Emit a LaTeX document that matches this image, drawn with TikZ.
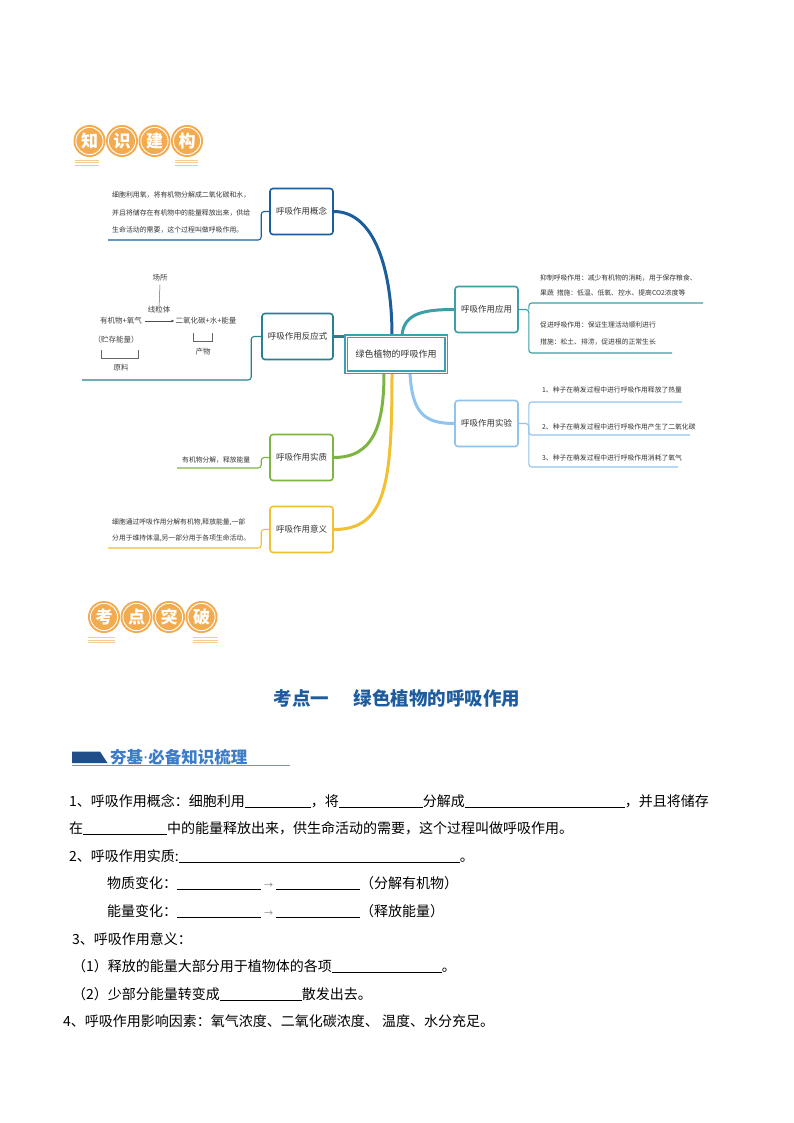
\documentclass[tikz,border=0pt]{standalone}
\usepackage{fontspec}
\setmainfont{Noto Sans CJK SC}
\newfontfamily\dvs{DejaVu Sans}
\usetikzlibrary{calc,backgrounds,arrows.meta}
\definecolor{cBlue}{HTML}{1B5E9B}
\definecolor{cTeal}{HTML}{2A808F}
\definecolor{cTealB}{HTML}{3B9FA6}
\definecolor{cLBlue}{HTML}{90C4EE}
\definecolor{cGreen}{HTML}{7DB544}
\definecolor{cGold}{HTML}{F2C033}
\definecolor{cCenter}{HTML}{3AA0B6}
\definecolor{hOrange}{HTML}{F2AB4F}
\definecolor{hLine}{HTML}{F3CB95}
\definecolor{titleBlue}{HTML}{1E5C9E}
\definecolor{secText}{HTML}{3D7CC9}
\definecolor{secShape}{HTML}{1F4E88}
\definecolor{secLine}{HTML}{7F93A8}
\definecolor{txtGray}{HTML}{333333}
\newcommand{\blank}[1]{\rule[-2pt]{#1}{0.6pt}}
\newcommand{\arr}{\hspace{3pt}{\color{gray}\fontsize{9}{9}\selectfont →}\hspace{3pt}}
\begin{document}
\begin{tikzpicture}[x=1pt,y=-1pt,
  every node/.style={inner sep=0pt},
  mnode/.style={draw, line width=1.6pt, rounded corners=3pt, fill=white,
    minimum width=63pt, minimum height=46pt, text=txtGray,
    font=\fontsize{8.5}{10}\selectfont},
  leaf/.style={font=\fontsize{6.8}{8}\selectfont, text=txtGray, align=left, anchor=west},
  eqt/.style={font=\fontsize{7.5}{8}\selectfont, text=black!75},
  body/.style={font=\fontsize{14}{16}\selectfont, anchor=base west},
  hcirc/.style={text=white, font=\bfseries\fontsize{17}{17}\selectfont},
  branch/.style={line width=3pt, line cap=round},
  twig/.style={line width=1.1pt, rounded corners=3pt},
]
\useasboundingbox (0,0) rectangle (794,1123);

% ---------- header 1 ----------
\foreach \x/\t [count=\i] in {89.5/知,122/识,154.5/建,187/构} {
  \fill[hOrange] (\x,141) circle (16);
  \draw[white, line width=0.9pt] (\x,141) circle (13.6);
  \node[hcirc] (ha\i) at (\x,141) {\t};
}
\foreach \yy in {160,162.5,165} {
  \draw[hLine, line width=0.6pt] (75,\yy) -- (99,\yy);
  \draw[hLine, line width=0.6pt] (175,\yy) -- (198,\yy);
}

% ---------- mind map nodes ----------
\node[mnode, draw=cBlue] (gn) at (301.5,211.5) {呼吸作用概念};
\node[mnode, draw=cTeal, minimum width=71pt] (fy) at (297.5,336.5) {呼吸作用反应式};
\node[mnode, draw=cGreen] (sz) at (301.5,457.5) {呼吸作用实质};
\node[mnode, draw=cGold] (yi) at (301.5,529.5) {呼吸作用意义};
\node[mnode, draw=cTealB] (yong) at (486.5,309.5) {呼吸作用应用};
\node[mnode, draw=cLBlue] (sy) at (486.5,423.5) {呼吸作用实验};
\node[draw=cCenter, line width=1.8pt, double=white, double distance=0.8pt, fill=white,
  minimum width=100pt, minimum height=36pt, text=txtGray,
  font=\fontsize{9}{10}\selectfont] (c) at (396,354) {绿色植物的呼吸作用};

% leaf coordinates
\coordinate (gnL) at (108,240);
\coordinate (fyL) at (82,380);
\coordinate (szL) at (177,468);
\coordinate (yiL) at (108,548);
\coordinate (yA) at (703,303);
\coordinate (yB) at (672,353);
\coordinate (s1) at (682,402);
\coordinate (s2) at (690,435);
\coordinate (s3) at (678,467);

\begin{scope}[on background layer]
  \fill[white] (0,0) rectangle (794,1123);
  % branches
  \draw[branch, cBlue] (gn.east) .. controls +(42,0) and +(0,-62) .. ([xshift=-4pt]c.north);
  \draw[branch, cTeal] (fy.east) -- (fy.east -| c.west);
  \draw[branch, cTealB] ([xshift=6pt]c.north) .. controls +(2,-22) and +(-30,0) .. (yong.west);
  \draw[branch, cLBlue] ([xshift=14pt]c.south) .. controls +(2,40) and +(-30,0) .. (sy.west);
  \draw[branch, cGreen] ([xshift=-12pt]c.south) .. controls +(0,52) and +(40,0) .. (sz.east);
  \draw[branch, cGold] ([xshift=-4pt]c.south) .. controls +(0,112) and +(52,0) .. (yi.east);
  % twigs
  \draw[twig, cBlue] (gn.west) -- ++(-8,0) |- (gnL);
  \draw[twig, cTeal] (fy.west) -- ++(-10,0) |- (fyL);
  \draw[twig, cGreen] (sz.west) -- ++(-8,0) |- (szL);
  \draw[twig, cGold] (yi.west) -- ++(-8,0) |- (yiL);
  \draw[twig, cTealB] (yong.east) -- ++(10,0) |- (yB);
  \draw[twig, cTealB] (yong.east) ++(10,0) |- (yA);
  \draw[twig, cLBlue] (sy.east) -- ++(10,0) |- (s3);
  \draw[twig, cLBlue] (sy.east) ++(10,0) |- (s1);
  \draw[twig, cLBlue] (sy.east) ++(10,0) |- (s2);
\end{scope}

% leaf texts
\node[leaf, font=\fontsize{6.9}{17.5}\selectfont] (gnt) at (112,212.5)
  {细胞利用氧，将有机物分解成二氧化碳和水，\\并且将储存在有机物中的能量释放出来，供给\\生命活动的需要，这个过程叫做呼吸作用。};
\node[leaf] (szt) at (182,460) {有机物分解，释放能量};
\node[leaf, font=\fontsize{6.8}{16}\selectfont] (yit) at (112,530)
  {细胞通过呼吸作用分解有机物,释放能量,一部\\分用于维持体温,另一部分用于各项生命活动。};
\node[leaf, font=\fontsize{6.8}{15}\selectfont] (yt1) at (540,285.5)
  {抑制呼吸作用：减少有机物的消耗，用于保存粮食、\\果蔬\ \ 措施：低温、低氧、控水、提高CO2浓度等};
\node[leaf, font=\fontsize{6.8}{16.5}\selectfont] (yt2) at (540,333.5)
  {促进呼吸作用：保证生理活动顺利进行\\措施：松土、排涝，促进根的正常生长};
\node[leaf] (st1) at (542,390) {1、种子在萌发过程中进行呼吸作用释放了热量};
\node[leaf] (st2) at (542,427) {2、种子在萌发过程中进行呼吸作用产生了二氧化碳};
\node[leaf] (st3) at (542,458) {3、种子在萌发过程中进行呼吸作用消耗了氧气};

% reaction equation
\node[eqt] (cs) at (160,278) {场所};
\node[eqt] (xlt) at (159,310) {线粒体};
\draw[black!60, line width=0.5pt] (cs.south) ++(0,3) -- ([yshift=-2pt]xlt.north);
\node[eqt] (yj) at (121,321) {有机物+氧气};
\node[eqt] (cw) at (206,321) {二氧化碳+水+能量};
\draw[black!70, line width=0.5pt, -{Stealth[length=3.5pt,width=2.5pt]}] ([xshift=3pt]yj.east) -- ([xshift=-1pt]cw.west);
\node[eqt] (zc) at (116,340) {（贮存能量）};
\draw[black!60, line width=0.5pt] (101,350) |- (138,358) -- (138,350);
\node[eqt] (yl) at (121,368) {原料};
\draw[black!60, line width=0.5pt] (193,333) |- (212,341) -- (212,333);
\node[eqt] (cwu) at (203,352) {产物};

% ---------- header 2 ----------
\foreach \x/\t [count=\i] in {104/考,136.5/点,169/突,201.5/破} {
  \fill[hOrange] (\x,617) circle (16);
  \draw[white, line width=0.9pt] (\x,617) circle (13.6);
  \node[hcirc] (hb\i) at (\x,617) {\t};
}
\foreach \yy in {637.5,640,642.5} {
  \draw[hLine, line width=0.6pt] (88,\yy) -- (115,\yy);
  \draw[hLine, line width=0.6pt] (193,\yy) -- (218,\yy);
}

% ---------- title ----------
\node[text=titleBlue, font=\bfseries\fontsize{18.5}{19}\selectfont] (title) at (397,698)
  {考点一\hspace{25pt}绿色植物的呼吸作用};

% section header
\fill[secShape] (72,751.5) -- (100,751.5) -- (107.5,763) -- (72,763) -- cycle;
\node[anchor=west, text=secText, font=\bfseries\fontsize{16.5}{16}\selectfont] (sec) at (110,757) {夯基{\dvs\mdseries ·}必备知识梳理};
\draw[secLine, line width=0.7pt] (72,765.5) -- (290,765.5);

% ---------- body ----------
\node[body] (l1) at (69,806) {1、呼吸作用概念：细胞利用\blank{66pt}，将\blank{84pt}分解成\blank{160pt}，并且将储存};
\node[body] (l2) at (69,833) {在\blank{84pt}中的能量释放出来，供生命活动的需要，这个过程叫做呼吸作用。};
\node[body] (l3) at (69,861) {2、呼吸作用实质:\blank{281pt}。};
\node[body] (l4) at (107,888) {物质变化：\blank{84pt}\arr\blank{84pt}（分解有机物）};
\node[body] (l5) at (107,916) {能量变化：\blank{84pt}\arr\blank{84pt}（释放能量）};
\node[body] (l6) at (72,944) {3、呼吸作用意义：};
\node[body] (l7) at (72,971) {（1）释放的能量大部分用于植物体的各项\blank{110pt}。};
\node[body] (l8) at (72,999) {（2）少部分能量转变成\blank{82pt}散发出去。};
\node[body] (l9) at (63,1026) {4、呼吸作用影响因素：氧气浓度、二氧化碳浓度、 温度、水分充足。};
\end{tikzpicture}
\end{document}
